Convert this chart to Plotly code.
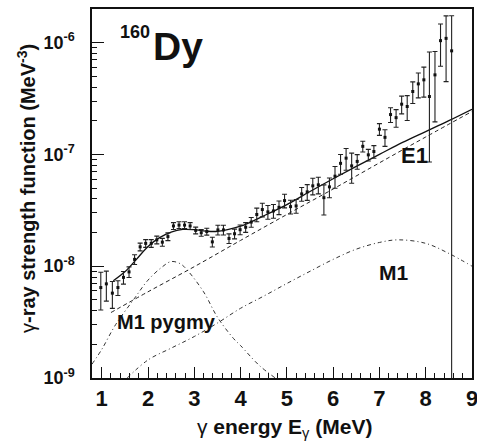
import plotly.graph_objects as go

# ---- data ----
energy = [0.98, 1.10, 1.23, 1.35, 1.47, 1.59, 1.71, 1.83, 1.95, 2.07, 2.19, 2.31, 2.43, 2.55,
          2.67, 2.79, 2.91, 3.03, 3.15, 3.27, 3.39, 3.51, 3.63, 3.75, 3.87, 3.99, 4.11, 4.23,
          4.35, 4.47, 4.59, 4.71, 4.83, 4.95, 5.08, 5.20, 5.32, 5.44, 5.56, 5.68, 5.80, 5.92,
          6.04, 6.16, 6.28, 6.40, 6.52, 6.64, 6.76, 6.88, 7.00, 7.12, 7.24, 7.36, 7.48, 7.60,
          7.72, 7.84, 7.96, 8.08, 8.20, 8.32, 8.44, 8.56]
strength = [6.44e-9, 6.95e-9, 5.74e-9, 6.44e-9, 7.94e-9, 8.89e-9, 1.15e-8, 1.49e-8, 1.60e-8,
            1.60e-8, 1.72e-8, 1.64e-8, 1.84e-8, 2.29e-8, 2.33e-8, 2.33e-8, 2.29e-8, 2.09e-8,
            1.99e-8, 2.04e-8, 1.65e-8, 2.11e-8, 2.11e-8, 1.77e-8, 1.95e-8, 2.12e-8, 2.23e-8,
            2.48e-8, 2.90e-8, 3.21e-8, 3.06e-8, 3.12e-8, 3.36e-8, 3.86e-8, 3.41e-8, 3.46e-8,
            4.43e-8, 4.62e-8, 5.23e-8, 5.34e-8, 4.10e-8, 5.12e-8, 6.38e-8, 8.31e-8, 9.25e-8,
            7.89e-8, 8.65e-8, 1.18e-7, 9.90e-8, 1.06e-7, 1.68e-7, 1.42e-7, 2.27e-7, 2.13e-7,
            2.81e-7, 2.68e-7, 3.65e-7, 4.27e-7, 4.64e-7, 3.29e-7, 5.14e-7, 1.04e-6, 1.09e-6,
            8.43e-7]
rel_err_up = [0.37, 0.30, 0.27, 0.15, 0.13, 0.11, 0.10, 0.08, 0.08, 0.08, 0.08, 0.08, 0.08,
              0.07, 0.07, 0.07, 0.07, 0.07, 0.07, 0.07, 0.10, 0.10, 0.10, 0.10, 0.10, 0.10,
              0.10, 0.10, 0.14, 0.14, 0.14, 0.14, 0.14, 0.14, 0.14, 0.14, 0.14, 0.16, 0.17,
              0.17, 0.30, 0.20, 0.22, 0.20, 0.22, 0.30, 0.15, 0.11, 0.12, 0.13, 0.12, 0.17,
              0.15, 0.18, 0.18, 0.25, 0.22, 0.25, 0.30, 1.50, 0.62, 0.41, 0.59, 1.06]
rel_err_down = [0.37, 0.30, 0.27, 0.15, 0.13, 0.11, 0.10, 0.08, 0.08, 0.08, 0.08, 0.08, 0.08,
                0.07, 0.07, 0.07, 0.07, 0.07, 0.07, 0.07, 0.10, 0.10, 0.10, 0.10, 0.10, 0.10,
                0.10, 0.10, 0.14, 0.14, 0.14, 0.14, 0.14, 0.14, 0.14, 0.14, 0.14, 0.16, 0.17,
                0.17, 0.30, 0.20, 0.22, 0.20, 0.22, 0.30, 0.15, 0.11, 0.12, 0.13, 0.12, 0.17,
                0.15, 0.18, 0.18, 0.25, 0.22, 0.25, 0.30, 0.74, 0.62, 0.41, 0.59, 1.10]

total_E = [1.25, 1.5, 1.75, 2.0, 2.25, 2.5, 2.75, 3.0, 3.25, 3.5, 4.0, 4.5, 5.0, 5.5, 6.0,
           6.5, 7.0, 7.5, 8.0, 8.5, 9.0]
total_f = [7.4e-9, 8.9e-9, 1.15e-8, 1.5e-8, 1.8e-8, 2.02e-8, 2.13e-8, 2.12e-8, 2.06e-8,
           2.05e-8, 2.28e-8, 2.82e-8, 3.55e-8, 4.65e-8, 6.05e-8, 7.8e-8, 1.0e-7, 1.28e-7,
           1.6e-7, 2.0e-7, 2.53e-7]

e1_E = [1.2, 2.0, 3.0, 4.0, 5.0, 6.0, 7.0, 8.0, 9.0]
e1_f = [3.85e-9, 5.9e-9, 9.9e-9, 1.7e-8, 2.9e-8, 4.9e-8, 8.4e-8, 1.43e-7, 2.42e-7]

m1_E = [1.55, 2.0, 2.5, 3.0, 3.5, 4.0, 4.5, 5.0, 5.5, 6.0, 6.5, 7.0, 7.4, 8.0, 8.5, 9.0]
m1_f = [1.0e-9, 1.45e-9, 1.85e-9, 2.35e-9, 3.1e-9, 4.2e-9, 5.4e-9, 7.0e-9, 9.0e-9, 1.15e-8,
        1.42e-8, 1.63e-8, 1.72e-8, 1.6e-8, 1.3e-8, 1.0e-8]

pygmy_E = [0.79, 1.0, 1.3, 1.7, 2.0, 2.3, 2.5, 2.7, 2.85, 3.2, 3.5, 3.85, 4.0, 4.4, 4.75]
pygmy_f = [1.33e-9, 1.8e-9, 3.0e-9, 5.1e-9, 7.5e-9, 9.8e-9, 1.1e-8, 1.05e-8, 9.2e-9, 5.9e-9,
           3.5e-9, 2.25e-9, 1.95e-9, 1.3e-9, 1.0e-9]

x_ticks = [1, 2, 3, 4, 5, 6, 7, 8, 9]
y_ticks = [1e-9, 1e-8, 1e-7, 1e-6]
y_ticktext = ["10<sup>-9</sup>", "10<sup>-8</sup>", "10<sup>-7</sup>", "10<sup>-6</sup>"]

err_up = [v * r for v, r in zip(strength, rel_err_up)]
err_down = [v * r for v, r in zip(strength, rel_err_down)]

FONT = "Liberation Sans, Arial, Helvetica, sans-serif"
dashdot = "4px,3px,1px,3px"

fig = go.Figure()
fig.add_trace(go.Scatter(x=pygmy_E, y=pygmy_f, mode="lines", line_shape="spline",
                         line=dict(color="#333", width=1, dash=dashdot)))
fig.add_trace(go.Scatter(x=m1_E, y=m1_f, mode="lines", line_shape="spline",
                         line=dict(color="#333", width=1, dash=dashdot)))
fig.add_trace(go.Scatter(x=e1_E, y=e1_f, mode="lines", line_shape="spline",
                         line=dict(color="#222", width=1, dash="4px,3px")))
fig.add_trace(go.Scatter(x=total_E, y=total_f, mode="lines", line_shape="spline",
                         line=dict(color="#111", width=1.3)))
fig.add_trace(go.Scatter(x=energy, y=strength, mode="markers",
                         marker=dict(symbol="square", size=3, color="#111"),
                         error_y=dict(type="data", array=err_up, arrayminus=err_down,
                                      symmetric=False, color="#222", thickness=1.1, width=2.5)))

minor_x = [v / 10 for v in range(8, 91, 2) if v % 10 != 0]
minor_y = [m * 10.0 ** e for e in (-9, -8, -7, -6) for m in range(2, 10) if m * 10.0 ** e <= 2e-6]

fig.update_xaxes(type="linear", range=[0.79, 9.0], showgrid=False, zeroline=False,
                 automargin=False, ticklabeloverflow="allow",
                 showline=True, mirror=True, linecolor="#111", linewidth=1.5,
                 ticks="inside", ticklen=11, tickwidth=1.2, tickcolor="#111",
                 tickvals=x_ticks, ticktext=[str(v) for v in x_ticks],
                 tickfont=dict(family=FONT, size=22, color="#111", weight="bold"),
                 minor=dict(tickvals=minor_x, ticks="inside", ticklen=5, tickwidth=1,
                            tickcolor="#111"))
fig.update_yaxes(type="log", range=[-9, -5.7], showgrid=False, zeroline=False,
                 automargin=False, ticklabeloverflow="allow",
                 showline=True, mirror=True, linecolor="#111", linewidth=1.5,
                 ticks="inside", ticklen=12, tickwidth=1.2, tickcolor="#111",
                 tickvals=y_ticks, ticktext=y_ticktext, ticklabelstandoff=12,
                 tickfont=dict(family=FONT, size=18, color="#111", weight="bold"),
                 minor=dict(tickvals=minor_y, ticks="inside", ticklen=5, tickwidth=1,
                            tickcolor="#111"))

W, H = 477, 445
L, R, T, B = 92, 5, 9, 67
pw, ph = W - L - R, H - T - B


def px(x):
    return (x - L) / pw


def py(y):
    return (H - B - y) / ph


ann = [
    dict(x=px(152), y=py(31.5), text="160", font=dict(size=18), xanchor="right", yanchor="middle"),
    dict(x=px(151), y=py(46), text="Dy", font=dict(size=39), xanchor="left", yanchor="middle"),
    dict(x=px(414), y=py(155), text="E1", font=dict(size=22), xanchor="center", yanchor="middle"),
    dict(x=px(393), y=py(272), text="M1", font=dict(size=21), xanchor="center", yanchor="middle"),
    dict(x=px(166), y=py(322), text="M1 pygmy", font=dict(size=20), xanchor="center",
         yanchor="middle"),
    dict(x=px(284), y=py(428), text="γ <b>energy E</b><sub>γ</sub><b> (MeV)</b>",
         font=dict(size=21, weight="normal"), xanchor="center", yanchor="middle"),
    dict(x=px(26), y=py(189), text="γ<b>-ray strength function (MeV<sup>-3</sup>)</b>",
         font=dict(size=20, weight="normal"), textangle=-90, xanchor="center", yanchor="middle"),
]
for a in ann:
    f = dict(family=FONT, color="#111", weight="bold")
    f.update(a.pop("font"))
    fig.add_annotation(xref="paper", yref="paper", showarrow=False, font=f, **a)

fig.update_layout(width=W, height=H, margin=dict(l=L, r=R, t=T, b=B),
                  paper_bgcolor="white", plot_bgcolor="white", showlegend=False)

fig.write_html("out.html", config={"displayModeBar": False},
               post_script=["document.body.style.margin='0';document.body.style.padding='0';"])
